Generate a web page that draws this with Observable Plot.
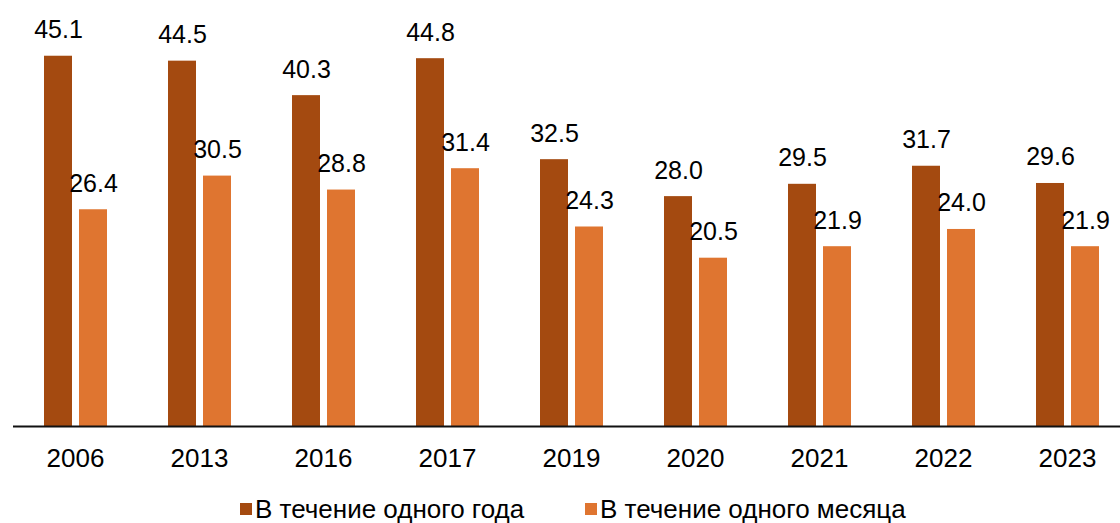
<!DOCTYPE html>
<html>
<head>
<meta charset="utf-8">
<script src="https://cdn.jsdelivr.net/npm/d3@7"></script>
<script src="https://cdn.jsdelivr.net/npm/@observablehq/plot@0.6"></script>
<style>
  html, body { margin: 0; padding: 0; background: #fff; overflow: hidden; }
  #wrap { width: 1120px; height: 523px; position: relative; font-family: "Liberation Sans", Arial, sans-serif; }
  #chart { height: 490px; width: 1120px; overflow: hidden; }
  #chart svg { max-width: none !important; height: 490px !important; width: 1132px !important; display: block; }
  #legend { position: absolute; left: 0; top: 496px; width: 1120px; height: 26px; font-size: 26px; line-height: 26px; color: #000; }
  .item { position: absolute; top: 0; height: 26px; display: flex; align-items: center; white-space: nowrap; }
  .sw { width: 12px; height: 12px; margin-right: 3px; flex: none; }
</style>
</head>
<body>
<div id="wrap"><div id="chart"></div><div id="legend"></div></div>
<script>
const years = ["2006","2013","2016","2017","2019","2020","2021","2022","2023"];
const seriesNames = ["В течение одного года", "В течение одного месяца"];
const yearValues = [45.1, 44.5, 40.3, 44.8, 32.5, 28.0, 29.5, 31.7, 29.6];
const monthValues = [26.4, 30.5, 28.8, 31.4, 24.3, 20.5, 21.9, 24.0, 21.9];
const colors = ["#A44A10", "#DF7530"];

const data = years.flatMap((yr, i) => [
  {year: yr, series: seriesNames[0], value: yearValues[i]},
  {year: yr, series: seriesNames[1], value: monthValues[i]}
]);

const chart = Plot.plot({
  width: 1132,
  height: 490,
  marginLeft: 10,
  marginRight: 0,
  marginTop: 15.5,
  marginBottom: 64,
  fx: {domain: years, range: [10, 1132], paddingInner: 0, paddingOuter: 0, label: null, axis: null},
  x: {domain: seriesNames, paddingInner: 0.208, paddingOuter: 0.868, axis: null},
  y: {domain: [0, 50], range: [426, 15.5], axis: null},
  color: {domain: seriesNames, range: colors},
  style: {fontFamily: "Liberation Sans, Arial, sans-serif", fontSize: "25px", color: "#000", background: "#fff", maxWidth: "none"},
  marks: [
    Plot.barY(data, {fx: "year", x: "series", y: "value", fill: "series"}),
    Plot.text(data, {fx: "year", x: "series", y: "value", text: d => d.value.toFixed(1), dy: -26, fontSize: 25, fill: "#000"}),
    Plot.ruleY([0], {stroke: "#111", strokeWidth: 1.8}),
    Plot.axisFx({anchor: "bottom", tickSize: 0, tickPadding: 22, fontSize: 26, label: null, fill: "#000"})
  ]
});
document.getElementById("chart").appendChild(chart);

const legendLefts = [240, 585];
const legend = document.getElementById("legend");
seriesNames.forEach((name, i) => {
  const item = document.createElement("div");
  item.className = "item";
  item.style.left = legendLefts[i] + "px";
  const sw = document.createElement("span");
  sw.className = "sw";
  sw.style.background = colors[i];
  const label = document.createElement("span");
  label.textContent = name;
  item.appendChild(sw);
  item.appendChild(label);
  legend.appendChild(item);
});
</script>
</body>
</html>
